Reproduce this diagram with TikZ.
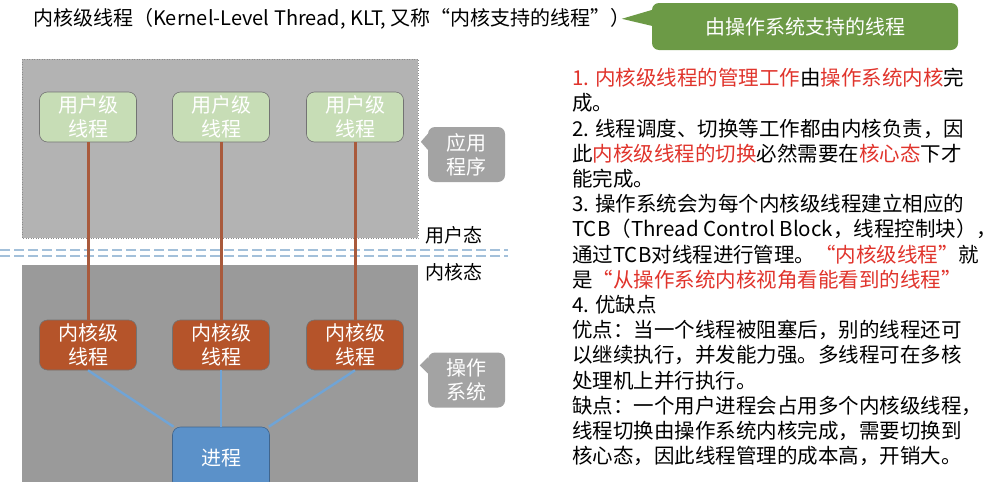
\documentclass[tikz,border=0pt]{standalone}
\usepackage{fontspec}
\setmainfont{Noto Sans CJK SC}
\usepackage{xcolor}
\definecolor{appgray}{HTML}{B3B3B3}
\definecolor{osgray}{HTML}{9A9A9A}
\definecolor{tipgray}{HTML}{A3A3A3}
\definecolor{usergreen}{HTML}{C7DDB6}
\definecolor{kernbrown}{HTML}{B5542A}
\definecolor{procblue}{HTML}{5B91C9}
\definecolor{linkbrown}{HTML}{A95A3C}
\definecolor{linkblue}{HTML}{70A4D6}
\definecolor{sepblue}{HTML}{A3C0DA}
\definecolor{notegreen}{HTML}{6C9A46}
\definecolor{hired}{HTML}{E0342C}
\newcommand{\hl}[1]{\textcolor{hired}{#1}}

\begin{document}
\begin{tikzpicture}[
    x=1pt, y=-1pt,
    thread/.style={rectangle, rounded corners=8pt, draw=black!55, line width=0.6pt, minimum width=97pt, minimum height=50pt, inner sep=1pt, align=center, text=white, font=\fontsize{20}{24}\selectfont},
    userbox/.style={thread, fill=usergreen},
    kernbox/.style={thread, fill=kernbrown},
    procbox/.style={thread, fill=procblue, draw=procblue!70!black, minimum height=62pt},
    tagbox/.style={rectangle, rounded corners=7pt, fill=tipgray, minimum width=77pt, minimum height=55pt, inner sep=1pt, align=center, text=white, font=\fontsize{20}{24}\selectfont},
    modelabel/.style={anchor=west, inner sep=0, font=\fontsize{19}{23}\selectfont}
  ]
  \useasboundingbox (0,0) rectangle (999,482);
  \clip (0,0) rectangle (999,482);

  % Title
  \node[anchor=west, inner sep=0, font=\fontsize{20}{24}\selectfont] (title) at (33,19) {内核级线程（Kernel-Level Thread, KLT, 又称“内核支持的线程”）};
  \node[rectangle, rounded corners=7pt, fill=notegreen, minimum width=306pt, minimum height=47pt, text=white, font=\fontsize{20}{24}\selectfont] (gnote) at (805,26.5) {由操作系统支持的线程};
  \fill[notegreen] ([yshift=-6pt, xshift=4pt]gnote.north west) -- ++(-34,10) -- ++(34,8) -- cycle;

  % Regions
  \fill[appgray] (22,59) rectangle (418,238);
  \draw[black!45, dotted, line width=0.5pt] (22,59) rectangle (418,238);
  \fill[osgray] (22,265) rectangle (418,490);
  \draw[sepblue, line width=2pt, dash pattern=on 10pt off 4pt] (0,250) -- (508,250);
  \draw[sepblue, line width=2pt, dash pattern=on 10pt off 4pt] (0,255.5) -- (508,255.5);
  \node[modelabel] (usermode) at (425,235) {用户态};
  \node[modelabel] (kernmode) at (425,272) {内核态};

  % Nodes
  \node[userbox] (u1) at (88,117) {用户级\\线程};
  \node[userbox] (u2) at (221,117) {用户级\\线程};
  \node[userbox] (u3) at (355,117) {用户级\\线程};
  \node[kernbox] (k1) at (88,345) {内核级\\线程};
  \node[kernbox] (k2) at (221,345) {内核级\\线程};
  \node[kernbox] (k3) at (355,345) {内核级\\线程};
  \node[procbox] (proc) at (221,458) {进程};

  % Edges
  \foreach \i in {1,2,3} {
    \draw[linkbrown, line width=3pt] (u\i) -- (k\i);
    \draw[linkblue, line width=2.4pt] (k\i.south) -- (proc);
  }

  % Side tags
  \node[tagbox] (apptag) at (466.5,154.5) {应用\\程序};
  \fill[tipgray] ([yshift=-7pt]apptag.north west) -- ++(-7,8) -- ++(7,8) -- cycle;
  \node[tagbox] (ostag) at (466.5,380) {操作\\系统};
  \fill[tipgray] ([yshift=-5pt]ostag.north west) -- ++(-8,8) -- ++(8,8) -- cycle;

  % Notes
  \node[anchor=north west, align=left, inner sep=0, font=\fontsize{20.5}{25.2}\selectfont] (notes) at (572,68) {%
    \hl{1. 内核级线程的管理工作}由\hl{操作系统内核}完\\
    成。\\
    2. 线程调度、切换等工作都由内核负责，因\\
    此\hl{内核级线程的切换}必然需要在\hl{核心态}下才\\
    能完成。\\
    3. 操作系统会为每个内核级线程建立相应的\\
    TCB（Thread Control Block，线程控制块），\\
    通过TCB对线程进行管理。\hl{“内核级线程”}就\\
    是\hl{“从操作系统内核视角看能看到的线程”}\\
    4. 优缺点\\
    优点：当一个线程被阻塞后，别的线程还可\\
    以继续执行，并发能力强。多线程可在多核\\
    处理机上并行执行。\\
    缺点：一个用户进程会占用多个内核级线程，\\
    线程切换由操作系统内核完成，需要切换到\\
    核心态，因此线程管理的成本高，开销大。};
\end{tikzpicture}
\end{document}
